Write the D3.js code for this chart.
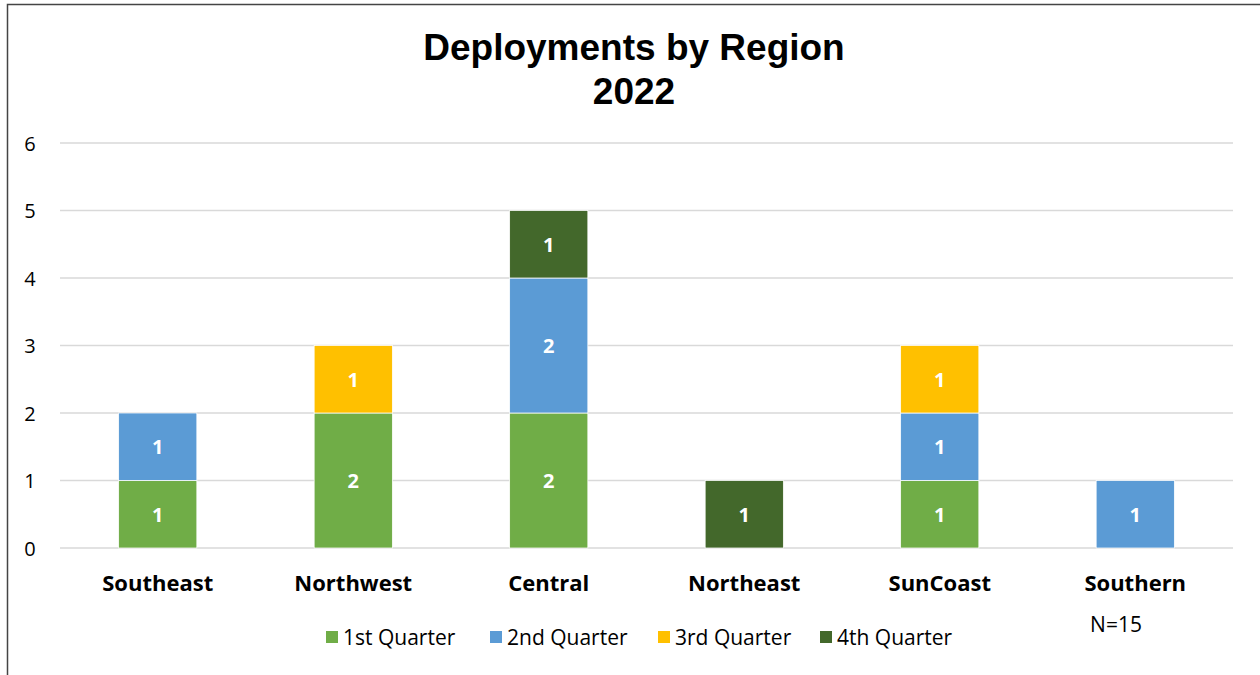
<!DOCTYPE html>
<html>
<head>
<meta charset="utf-8">
<script src="https://cdn.jsdelivr.net/npm/d3@7"></script>
<style>
  body { margin: 0; background: #fff; }
  svg { display: block; }
</style>
</head>
<body>
<div id="chart"></div>
<script>
const regions = ["Southeast", "Northwest", "Central", "Northeast", "SunCoast", "Southern"];
const quarters = ["1st Quarter", "2nd Quarter", "3rd Quarter", "4th Quarter"];
const q1 = [1, 2, 2, 0, 1, 0];
const q2 = [1, 0, 2, 0, 1, 1];
const q3 = [0, 1, 0, 0, 1, 0];
const q4 = [0, 0, 1, 1, 0, 0];
const yTicks = [0, 1, 2, 3, 4, 5, 6];
const colors = ["#70AD47", "#5B9BD5", "#FFC000", "#43682B"];

const w = 1260, h = 675;
const m = { l: 60, r: 27, t: 143, b: 127 };
const font = "'Open Sans', Lato, sans-serif";

const rows = regions.map((r, i) => ({
  region: r,
  "1st Quarter": q1[i], "2nd Quarter": q2[i], "3rd Quarter": q3[i], "4th Quarter": q4[i]
}));
const series = d3.stack().keys(quarters)(rows);

const svg = d3.select("#chart").append("svg").attr("width", w).attr("height", h);

// outer border (top and left edges visible)
svg.append("path")
  .attr("d", `M7.5,${h} L7.5,4.5 L${w},4.5`)
  .attr("fill", "none").attr("stroke", "#444").attr("stroke-width", 1.5);

const x = d3.scaleBand().domain(regions).range([m.l, w - m.r]).paddingInner(0.6).paddingOuter(0.3);
const y = d3.scaleLinear().domain([0, 6]).range([h - m.b, m.t]);

// gridlines
svg.append("g").selectAll("line").data(yTicks).join("line")
  .attr("x1", m.l).attr("x2", w - m.r)
  .attr("y1", d => y(d)).attr("y2", d => y(d))
  .attr("stroke", "#d9d9d9").attr("stroke-width", 1.5);

// y tick labels
svg.append("g").selectAll("text").data(yTicks).join("text")
  .attr("x", 30).attr("y", d => y(d))
  .attr("text-anchor", "middle").attr("dominant-baseline", "central")
  .attr("font-family", font).attr("font-size", 20).attr("fill", "#000")
  .text(d => d);

// bars
const layer = svg.append("g").selectAll("g").data(series).join("g")
  .attr("fill", (d, i) => colors[i]);

layer.selectAll("rect").data(d => d.filter(s => s[1] - s[0] > 0)).join("rect")
  .attr("x", d => x(d.data.region))
  .attr("width", x.bandwidth())
  .attr("y", d => y(d[1]))
  .attr("height", d => y(d[0]) - y(d[1]))
  .attr("stroke", "#fff").attr("stroke-width", 0.75);

// value labels
layer.selectAll("text").data(d => d.filter(s => s[1] - s[0] > 0)).join("text")
  .attr("x", d => x(d.data.region) + x.bandwidth() / 2)
  .attr("y", d => (y(d[0]) + y(d[1])) / 2)
  .attr("text-anchor", "middle").attr("dominant-baseline", "central")
  .attr("font-family", font).attr("font-weight", "bold")
  .attr("font-size", 20).attr("fill", "#fff")
  .text(d => d[1] - d[0]);

// category labels
svg.append("g").selectAll("text").data(regions).join("text")
  .attr("x", d => x(d) + x.bandwidth() / 2)
  .attr("y", y(0) + 34)
  .attr("text-anchor", "middle").attr("dominant-baseline", "central")
  .attr("font-family", font).attr("font-weight", "bold")
  .attr("font-size", 22).attr("fill", "#000")
  .text(d => d);

// title
const title = svg.append("text")
  .attr("text-anchor", "middle")
  .attr("font-family", "'Liberation Sans', Arial, sans-serif").attr("font-weight", "bold")
  .attr("font-size", 37).attr("fill", "#000");
title.append("tspan").attr("x", 634).attr("y", 60).text("Deployments by Region");
title.append("tspan").attr("x", 634).attr("y", 104).text("2022");

// legend
const legendX = [326, 490, 658, 820];
const legend = svg.append("g").selectAll("g").data(quarters).join("g")
  .attr("transform", (d, i) => `translate(${legendX[i]},637)`);
legend.append("rect").attr("x", 0).attr("y", -6).attr("width", 12).attr("height", 12)
  .attr("fill", (d, i) => colors[i]);
legend.append("text").attr("x", 17).attr("y", 0)
  .attr("dominant-baseline", "central")
  .attr("font-family", font).attr("font-size", 21).attr("fill", "#000")
  .text(d => d);

// sample size note
svg.append("text")
  .attr("x", 1116).attr("y", 624)
  .attr("text-anchor", "middle").attr("dominant-baseline", "central")
  .attr("font-family", font).attr("font-size", 21).attr("fill", "#000")
  .text("N=15");
</script>
</body>
</html>
